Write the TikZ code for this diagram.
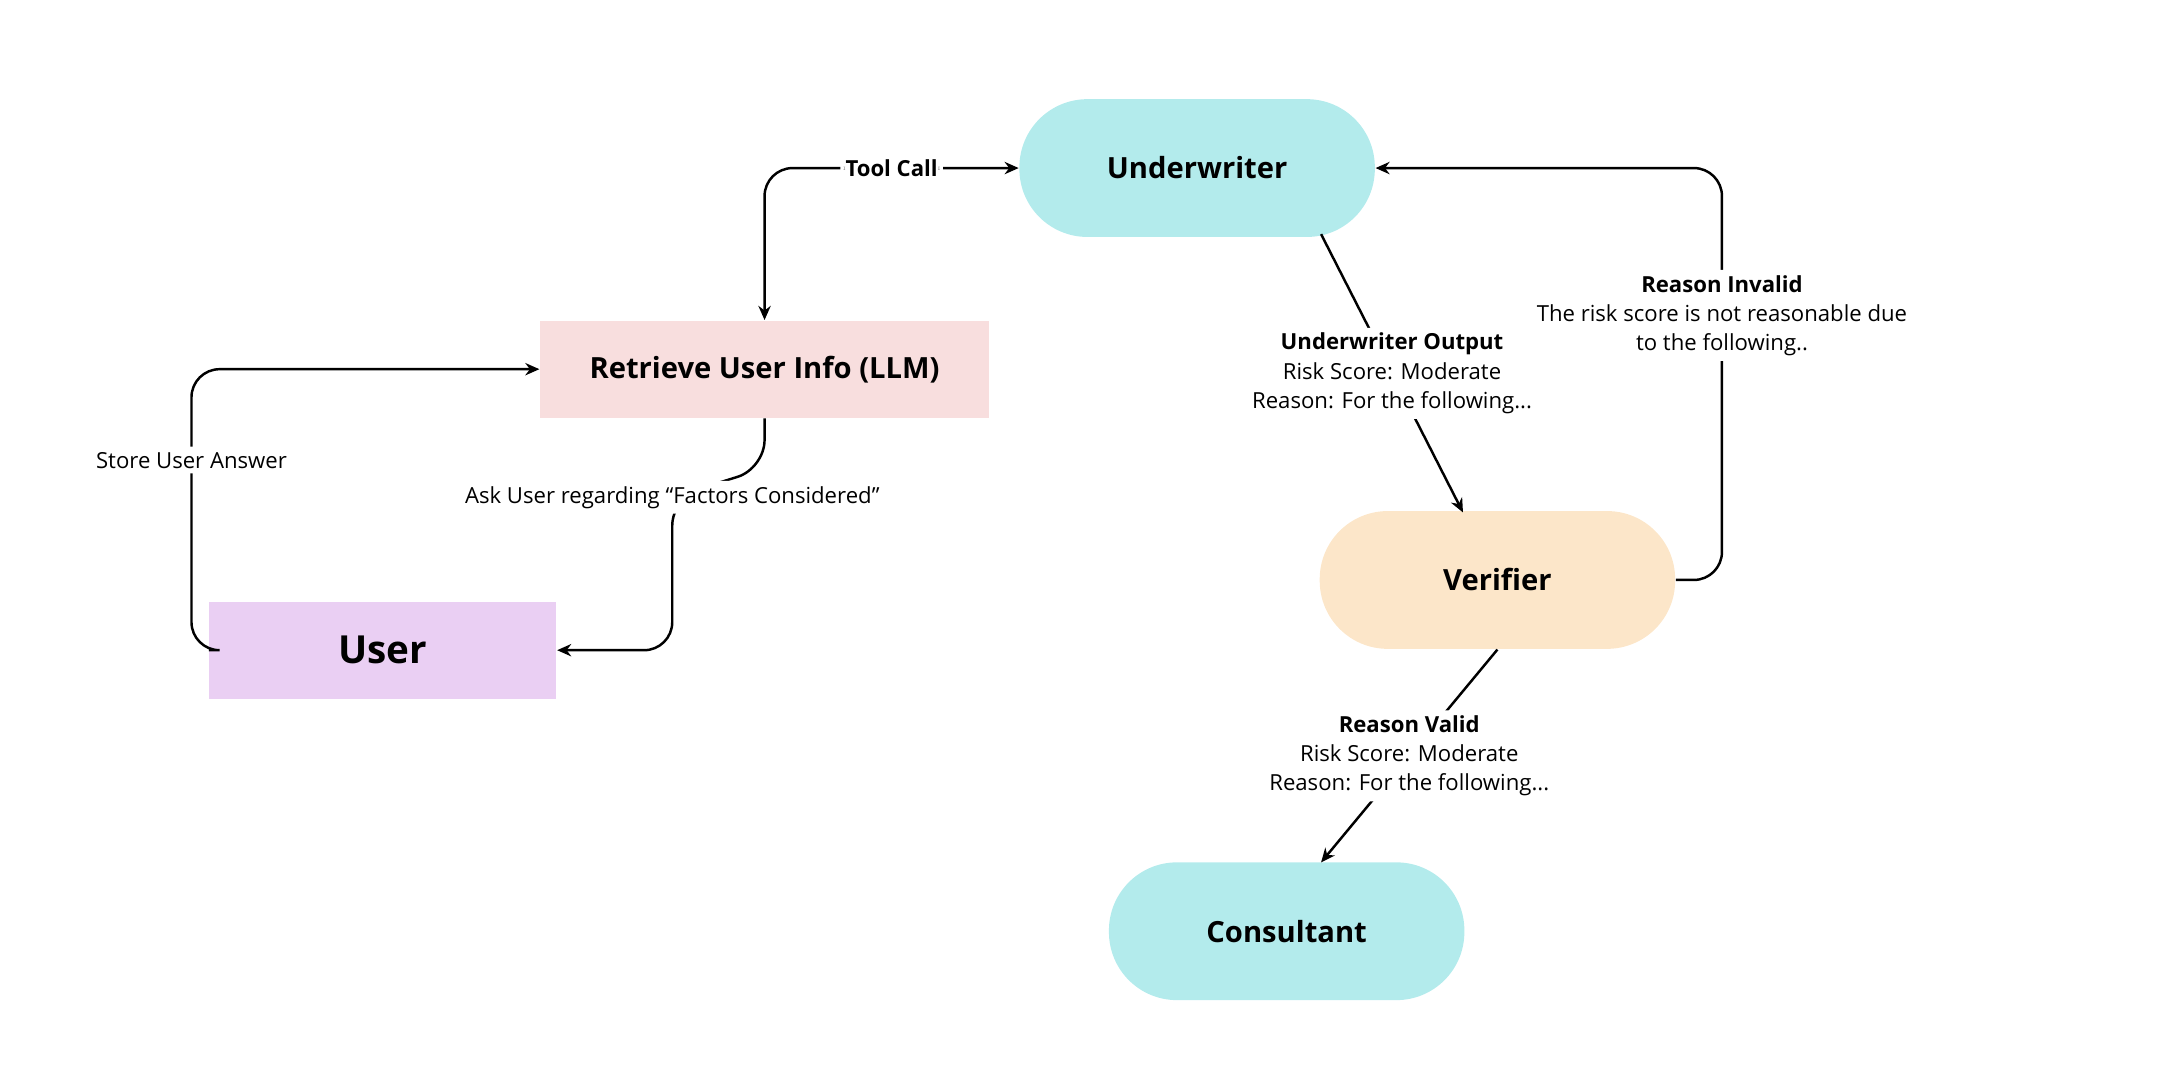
\documentclass[tikz,border=0pt]{standalone}
\usepackage{fontspec}
\setmainfont{Open Sans}
\usetikzlibrary{arrows.meta,positioning}
\definecolor{cyanfill}{HTML}{B3EBEC}
\definecolor{pinkfill}{HTML}{F8DEDE}
\definecolor{lilacfill}{HTML}{EACFF3}
\definecolor{peachfill}{HTML}{FCE6C9}
\begin{document}
\begin{tikzpicture}[x=0.01378cm,y=-0.01378cm,>={Stealth[length=4pt,width=3.5pt]},
                    agent/.style={rounded corners=0.68cm,minimum width=3.555cm,minimum height=1.378cm,font=\fontsize{8.3}{10}\selectfont\bfseries},
                    box/.style={minimum height=0.97cm,font=\fontsize{8.3}{10}\selectfont\bfseries},
                    flow/.style={->,line width=0.7pt,rounded corners=8pt},
                    lbl/.style={fill=white,inner sep=1.5pt,align=center,font=\fontsize{6.3}{8.3}\selectfont}]
  \useasboundingbox (0,0) rectangle (1568,784);

  \node[agent,fill=cyanfill] (under) at (869,122) {Underwriter};
  \node[box,fill=pinkfill,minimum width=4.49cm] (retr) at (555,268) {Retrieve User Info (LLM)};
  \node[box,fill=lilacfill,minimum width=3.47cm,font=\fontsize{11}{13}\selectfont\bfseries] (user) at (278,472) {User};
  \node[agent,fill=peachfill] (verif) at (1087,421) {Verifier};
  \node[agent,fill=cyanfill] (cons) at (934,676) {Consultant};

  \coordinate (ask) at (488,361);
  \coordinate (store) at (139,334);
  \coordinate (inval) at (1250,229);

  \draw[flow,<->] (retr.north) |- node[lbl,pos=0.75] {\bfseries Tool Call} (under.west);
  \draw[flow] (959,170) -- node[lbl] {\bfseries Underwriter Output\\Risk Score: Moderate\\Reason: For the following...} (1062,372);
  \draw[flow] (verif.east) -- (1250,421) -- (inval) node[lbl] {\bfseries Reason Invalid\\The risk score is not reasonable due\\to the following..} -- (1250,122) -- (under.east);
  \draw[flow] (verif.south) -- node[lbl] {\bfseries Reason Valid\\Risk Score: Moderate\\Reason: For the following...} (959,626);
  \draw[flow] (retr.south) -- (555,340) -- (ask) node[lbl] {Ask User regarding “Factors Considered”} -- (488,472) -- (user.east);
  \draw[flow] (user.west) -- (139,472) -- (store) node[lbl] {Store User Answer} -- (139,268) -- (retr.west);
\end{tikzpicture}
\end{document}
